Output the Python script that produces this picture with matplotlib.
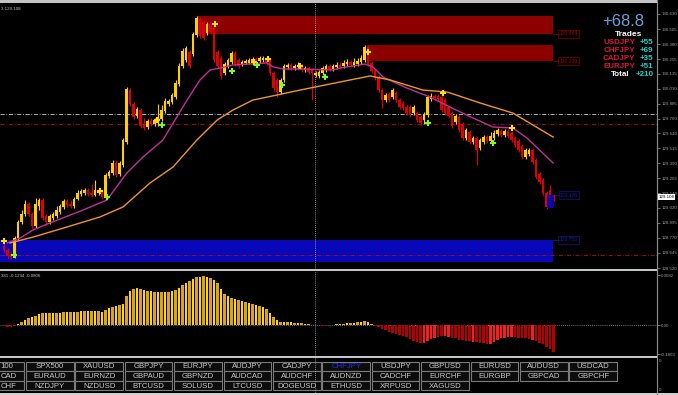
import matplotlib
matplotlib.use("Agg")
import matplotlib.pyplot as plt
from matplotlib.patches import Rectangle
from matplotlib.lines import Line2D

plt.rcParams["font.family"] = ["Liberation Sans", "DejaVu Sans"]

# =====================================================
# DATA  (CHFJPY, one entry per bar)
# =====================================================

opens = [128.703, 128.670, 128.636, 128.611, 128.769, 128.902, 128.969, 129.052, 128.969, 128.869,
         129.035, 129.085, 128.952, 128.902, 128.935, 128.952, 128.985, 129.027, 129.077, 129.052,
         129.035, 129.093, 129.135, 129.143, 129.168, 129.143, 129.126, 129.143, 129.151, 129.101,
         129.284, 129.309, 129.392, 129.301, 129.376, 129.567, 129.998, 129.882, 129.783, 129.832,
         129.716, 129.691, 129.741, 129.716, 129.741, 129.758, 129.824, 129.882, 129.899, 129.940,
         130.048, 130.198, 130.248, 130.314, 130.297, 130.455, 130.588, 130.563, 130.472, 130.547,
         130.522, 130.314, 130.264, 130.140, 130.198, 130.231, 130.306, 130.248, 130.214, 130.223,
         130.223, 130.231, 130.256, 130.239, 130.248, 130.264, 130.248, 130.140, 130.082, 129.982,
         130.082, 130.190, 130.206, 130.181, 130.190, 130.198, 130.165, 130.181, 130.165, 130.123,
         130.115, 130.140, 130.165, 130.198, 130.173, 130.190, 130.206, 130.198, 130.214, 130.231,
         130.206, 130.214, 130.231, 130.248, 130.356, 130.223, 130.165, 130.106, 129.998, 129.915,
         129.965, 129.940, 129.974, 129.915, 129.891, 129.857, 129.857, 129.807, 129.807, 129.774,
         129.749, 129.791, 129.924, 129.949, 129.949, 129.940, 129.915, 129.857, 129.807, 129.733,
         129.774, 129.716, 129.600, 129.650, 129.567, 129.600, 129.517, 129.567, 129.608, 129.575,
         129.600, 129.633, 129.658, 129.625, 129.658, 129.641, 129.600, 129.575, 129.533, 129.442,
         129.467, 129.500, 129.417, 129.301, 129.251, 129.143, 129.168, 129.118]

closes = [128.670, 128.620, 128.611, 128.769, 128.902, 128.969, 129.052, 128.969, 128.869, 129.052,
          129.085, 128.935, 128.902, 128.952, 128.969, 129.002, 129.035, 129.077, 129.043, 129.035,
          129.093, 129.143, 129.160, 129.168, 129.135, 129.126, 129.168, 129.168, 129.110, 129.293,
          129.317, 129.392, 129.293, 129.392, 129.583, 130.007, 129.882, 129.774, 129.841, 129.699,
          129.683, 129.741, 129.716, 129.749, 129.766, 129.832, 129.907, 129.907, 129.957, 130.057,
          130.198, 130.322, 130.347, 130.198, 130.464, 130.596, 130.447, 130.430, 130.547, 130.480,
          130.248, 130.198, 130.115, 130.214, 130.248, 130.306, 130.214, 130.198, 130.231, 130.239,
          130.248, 130.256, 130.231, 130.264, 130.264, 130.223, 130.140, 130.015, 129.982, 130.082,
          130.198, 130.206, 130.181, 130.198, 130.206, 130.165, 130.181, 130.148, 130.140, 130.140,
          130.148, 130.181, 130.198, 130.173, 130.198, 130.206, 130.190, 130.223, 130.231, 130.206,
          130.231, 130.239, 130.264, 130.356, 130.214, 130.156, 130.098, 129.998, 129.915, 129.957,
          129.915, 129.998, 129.915, 129.857, 129.849, 129.807, 129.791, 129.857, 129.749, 129.724,
          129.799, 129.940, 129.949, 129.932, 129.924, 129.832, 129.807, 129.783, 129.699, 129.783,
          129.666, 129.600, 129.666, 129.567, 129.600, 129.500, 129.583, 129.608, 129.575, 129.616,
          129.641, 129.666, 129.625, 129.658, 129.616, 129.583, 129.542, 129.500, 129.442, 129.500,
          129.500, 129.400, 129.276, 129.234, 129.143, 129.027, 129.043, 129.108]

highs = [128.728, 128.686, 128.653, 128.786, 128.919, 129.002, 129.085, 129.068, 128.985, 129.101,
         129.101, 129.101, 128.969, 128.969, 128.985, 129.035, 129.052, 129.093, 129.093, 129.085,
         129.110, 129.168, 129.176, 129.185, 129.185, 129.218, 129.251, 129.185, 129.168, 129.309,
         129.334, 129.417, 129.417, 129.409, 129.600, 130.023, 130.015, 129.899, 129.857, 129.849,
         129.766, 129.758, 129.766, 129.766, 129.882, 129.874, 129.932, 129.924, 129.974, 130.082,
         130.223, 130.347, 130.364, 130.331, 130.480, 130.613, 130.605, 130.580, 130.563, 130.563,
         130.538, 130.331, 130.281, 130.231, 130.264, 130.322, 130.322, 130.264, 130.248, 130.256,
         130.264, 130.273, 130.273, 130.281, 130.281, 130.281, 130.264, 130.156, 130.098, 130.098,
         130.214, 130.223, 130.223, 130.214, 130.231, 130.214, 130.198, 130.198, 130.181, 130.156,
         130.165, 130.198, 130.214, 130.214, 130.214, 130.231, 130.231, 130.248, 130.256, 130.248,
         130.264, 130.264, 130.289, 130.372, 130.372, 130.239, 130.181, 130.123, 130.015, 129.974,
         129.982, 130.015, 129.990, 129.932, 129.907, 129.874, 129.874, 129.874, 129.824, 129.791,
         129.816, 129.957, 129.974, 129.965, 129.965, 129.957, 129.932, 129.874, 129.824, 129.799,
         129.791, 129.733, 129.683, 129.666, 129.616, 129.616, 129.600, 129.625, 129.625, 129.650,
         129.666, 129.683, 129.675, 129.675, 129.675, 129.658, 129.616, 129.592, 129.550, 129.517,
         129.517, 129.517, 129.434, 129.317, 129.268, 129.160, 129.209, 129.135]

lows = [128.653, 128.603, 128.595, 128.603, 128.753, 128.885, 128.952, 128.952, 128.852, 128.852,
        129.002, 128.919, 128.877, 128.885, 128.919, 128.935, 128.969, 129.010, 129.027, 129.018,
        129.018, 129.085, 129.118, 129.126, 129.118, 129.110, 129.118, 129.126, 129.093, 129.085,
        129.268, 129.293, 129.276, 129.284, 129.359, 129.550, 129.866, 129.758, 129.766, 129.683,
        129.666, 129.675, 129.699, 129.699, 129.699, 129.741, 129.807, 129.866, 129.882, 129.924,
        130.032, 130.181, 130.231, 130.181, 130.281, 130.439, 130.430, 130.414, 130.455, 130.464,
        130.231, 130.181, 130.090, 130.123, 130.181, 130.214, 130.198, 130.181, 130.198, 130.214,
        130.214, 130.206, 130.214, 130.223, 130.231, 130.206, 130.123, 129.990, 129.940, 129.965,
        130.065, 130.173, 130.165, 130.165, 130.173, 130.148, 130.148, 130.131, 129.915, 130.106,
        130.098, 130.123, 130.148, 130.156, 130.156, 130.173, 130.173, 130.181, 130.198, 130.190,
        130.190, 130.198, 130.214, 130.231, 130.198, 130.140, 130.082, 129.982, 129.849, 129.899,
        129.899, 129.924, 129.899, 129.841, 129.832, 129.791, 129.774, 129.791, 129.733, 129.708,
        129.716, 129.774, 129.907, 129.915, 129.907, 129.816, 129.791, 129.766, 129.683, 129.716,
        129.650, 129.583, 129.583, 129.550, 129.550, 129.376, 129.500, 129.550, 129.558, 129.558,
        129.583, 129.616, 129.608, 129.608, 129.600, 129.567, 129.525, 129.483, 129.425, 129.425,
        129.450, 129.384, 129.259, 129.218, 129.126, 129.010, 129.027, 129.077]

# moving averages, sampled at bar positions
ma_fast_x = [0.9, 4.6, 8.3, 13.1, 22.6, 29.4, 35.1, 39.7, 45.4, 52.3, 56.0, 58.9, 61.7, 65.4,
             75.1, 76.9, 79.7, 84.6, 94.0, 96.0, 103.1, 105.4, 108.3, 115.1, 121.7, 127.4,
             134.0, 139.7, 145.4, 149.4, 156.9]
ma_fast_y = [128.728, 128.769, 128.836, 128.894, 129.002, 129.085, 129.309, 129.442, 129.583,
             129.915, 130.082, 130.165, 130.181, 130.206, 130.223, 130.190, 130.173, 130.173,
             130.165, 130.181, 130.214, 130.190, 130.106, 130.015, 129.940, 129.857, 129.766,
             129.691, 129.683, 129.600, 129.392]

ma_slow_x = [1.7, 8.3, 18.0, 27.4, 34.0, 41.7, 48.3, 55.1, 60.9, 65.4, 71.1, 78.0, 84.6, 96.0,
             104.6, 110.3, 119.7, 126.6, 136.0, 145.4, 156.9]
ma_slow_y = [128.728, 128.777, 128.861, 128.944, 129.027, 129.226, 129.359, 129.583, 129.749,
             129.832, 129.915, 129.957, 129.998, 130.065, 130.115, 130.082, 129.998, 129.982,
             129.891, 129.807, 129.608]

# signal arrows
sell_x = [0.0, 27.4, 43.7, 60.3, 71.4, 75.4, 84.6, 104.0, 125.4, 145.1]
sell_y = [128.744, 129.160, 129.749, 130.547, 130.231, 130.256, 130.198, 130.314, 129.974, 129.683]
buy_x = [2.9, 29.4, 45.1, 65.1, 72.3, 79.4, 91.7, 121.1, 139.7]
buy_y = [128.628, 129.110, 129.708, 130.156, 130.206, 130.040, 130.106, 129.724, 129.558]

# supply / demand zones
zone_start = [55.1, 103.7, -1.2, 155.0]
zone_end = [156.9, 156.9, 156.9, 157.0]
zone_low = [130.464, 130.239, 128.570, 129.018]
zone_high = [130.613, 130.372, 128.753, 129.126]
zone_kind = ["supply", "supply", "demand", "demand"]

level_gray = 129.799
level_red = [129.716, 128.628]
cursor_bar = 88.9

price_ticks = [130.630, 130.505, 130.380, 130.255, 130.135, 130.010, 129.885, 129.760, 129.640,
               129.515, 129.390, 129.265, 129.140, 129.020, 128.895, 128.770, 128.645, 128.520]

# oscillator histogram
osc = [-0.005, -0.010, -0.010, -0.006, 0.006, 0.019, 0.031, 0.043, 0.049, 0.056,
       0.068, 0.074, 0.074, 0.074, 0.074, 0.074, 0.074, 0.080, 0.080, 0.080,
       0.080, 0.080, 0.086, 0.086, 0.086, 0.086, 0.086, 0.086, 0.080, 0.093,
       0.105, 0.111, 0.117, 0.123, 0.130, 0.179, 0.210, 0.222, 0.228, 0.222,
       0.216, 0.210, 0.210, 0.204, 0.204, 0.204, 0.204, 0.204, 0.210, 0.216,
       0.228, 0.247, 0.259, 0.272, 0.284, 0.296, 0.296, 0.302, 0.296, 0.290,
       0.278, 0.259, 0.222, 0.191, 0.179, 0.167, 0.160, 0.154, 0.148, 0.142,
       0.136, 0.130, 0.123, 0.117, 0.111, 0.099, 0.074, 0.049, 0.031, 0.019,
       0.019, 0.019, 0.019, 0.012, 0.012, 0.012, 0.006, 0.006, 0.003, 0.001,
       -0.002, -0.003, -0.002, 0.001, 0.003, 0.005, 0.007, 0.009, 0.010, 0.012,
       0.014, 0.016, 0.019, 0.025, 0.020, 0.008, -0.003, -0.012, -0.025, -0.031,
       -0.040, -0.049, -0.056, -0.062, -0.068, -0.074, -0.086, -0.099, -0.105, -0.108,
       -0.108, -0.099, -0.086, -0.077, -0.071, -0.068, -0.068, -0.071, -0.077, -0.083,
       -0.090, -0.093, -0.096, -0.099, -0.102, -0.105, -0.108, -0.111, -0.114, -0.114,
       -0.105, -0.093, -0.083, -0.077, -0.074, -0.074, -0.074, -0.077, -0.080, -0.083,
       -0.086, -0.090, -0.096, -0.108, -0.120, -0.133, -0.150, -0.167]
osc_strong = [120, 121, 122, 123, 126, 127, 134, 139, 140, 141, 142, 143, 144, 145, 151]
osc_ticks = [0.3082, 0.0, -0.1803]
osc_tick_labels = ["0.3082", "0.00", "-0.1803"]

trade_pairs = ["USDJPY", "CHFJPY", "CADJPY", "EURJPY"]
trade_pips = [55, 69, 35, 51]
profit_label = "+68.8"

buttons = [
    ["100", "SPX500", "XAUUSD", "GBPJPY", "EURJPY", "AUDJPY", "CADJPY", "CHFJPY",
     "USDJPY", "GBPUSD", "EURUSD", "AUDUSD", "USDCAD"],
    ["CAD", "EURAUD", "EURNZD", "GBPAUD", "GBPNZD", "AUDCAD", "AUDCHF", "AUDNZD",
     "CADCHF", "EURCHF", "EURGBP", "GBPCAD", "GBPCHF"],
    ["CHF", "NZDJPY", "NZDUSD", "BTCUSD", "SOLUSD", "LTCUSD", "DOGEUSD", "ETHUSD",
     "XRPUSD", "XAGUSD"],
]
active_symbol = "CHFJPY"

# =====================================================
# FIGURE
# =====================================================

W, H = 678, 395
fig = plt.figure(figsize=(W / 100, H / 100), dpi=100, facecolor="black")


def box(x0, y0, x1, y1):
    # pixel box (top-left origin) -> figure rect
    return [x0 / W, 1 - y1 / H, (x1 - x0) / W, (y1 - y0) / H]


def fx(x):
    return x / W


def fy(y):
    return 1 - y / H


LABEL = "#9c9c9c"
bars = range(len(closes))

# ---------------- main price window ----------------
ax = fig.add_axes(box(0, 3, 657, 269), facecolor="black")
ax.set_xlim(-1.143, 186.57)
ax.set_ylim(128.512, 130.721)

for s, e, lo, hi, kind in zip(zone_start, zone_end, zone_low, zone_high, zone_kind):
    col = "#8c0000" if kind == "supply" else "#0808b8"
    small = (e - s) < 5
    ax.add_patch(Rectangle((s, lo), e - s, hi - lo, facecolor=col, edgecolor="none",
                           alpha=0.9 if small else 1.0, zorder=4 if small else 1))
    edge = lo if kind == "supply" else hi
    tcol = "#a00000" if kind == "supply" else "#1a1aa0"
    ax.plot([e, e + 1.6], [edge, edge], color=tcol, lw=0.5, zorder=2)
    ax.text(e + 1.8, edge, f"{edge:.3f}", color=tcol, fontsize=3.6, va="center", ha="left",
            bbox=dict(boxstyle="square,pad=0.25", fc="none", ec=tcol, lw=0.4), zorder=2)

ax.axhline(level_gray, color="#c8c8c8", lw=0.6, ls=(0, (5, 2, 1, 2)), zorder=1.5)
for lv in level_red:
    ax.axhline(lv, color="#b01010", lw=0.6, ls=(0, (5, 2, 1, 2)), zorder=1.5)
ax.axvline(cursor_bar, color="#bdbdbd", lw=0.6, ls=(0, (1, 1.5)), zorder=1.5)

up_col, dn_col = "#ffd000", "#e00000"
for i in bars:
    o, c = opens[i], closes[i]
    col = up_col if c >= o else dn_col
    ax.vlines(i, lows[i], highs[i], color=col, lw=0.8, zorder=3)
    ax.bar(i, max(abs(c - o), 0.003), bottom=min(o, c), width=0.8, color=col,
           linewidth=0, zorder=3)

ax.plot(ma_fast_x, ma_fast_y, color="#c0309a", lw=1.0, zorder=3.5)
ax.plot(ma_slow_x, ma_slow_y, color="#f0962a", lw=1.0, zorder=3.5)

ax.plot(sell_x, sell_y, "P", color="#ffe000", ms=4.2, mew=0, zorder=5)
ax.plot(buy_x, buy_y, "P", color="#7cff20", ms=4.2, mew=0, zorder=5)

ax.yaxis.tick_right()
ax.set_yticks(price_ticks)
ax.set_yticklabels([f"{t:.3f}" for t in price_ticks])
ax.tick_params(axis="y", colors=LABEL, labelsize=3.2, length=2, width=0.5, pad=1)
ax.set_xticks([])
for side in ["top", "left", "bottom"]:
    ax.spines[side].set_visible(False)
ax.spines["right"].set_color("#8a8a8a")

last = closes[-1]
ax.text(1.002, last, f"{last:.3f}", transform=ax.get_yaxis_transform(), fontsize=3.2,
        color="black", va="center", ha="left",
        bbox=dict(boxstyle="square,pad=0.2", fc="white", ec="white", lw=0))

ax.text(0.002, 0.985, "3 129.108", transform=ax.transAxes, fontsize=3.2, color="#c8c8c8",
        va="top", ha="left")

# ---------------- oscillator window ----------------
ax2 = fig.add_axes(box(0, 271, 657, 356), facecolor="black")
ax2.set_xlim(-1.143, 186.57)
ax2.set_ylim(-0.191, 0.333)
osc_cols = []
for i, v in enumerate(osc):
    if v >= 0:
        osc_cols.append("#ffd800" if i % 2 == 0 else "#d9a514")
    else:
        osc_cols.append("#ff1a1a" if i in osc_strong else "#b40000")
ax2.bar(list(bars), osc, width=0.8, color=osc_cols, linewidth=0, zorder=2)
ax2.axhline(0, color="#9a9a9a", lw=0.6, ls=(0, (1, 1.5)), zorder=1)
ax2.axvline(cursor_bar, color="#bdbdbd", lw=0.6, ls=(0, (1, 1.5)), zorder=3)
ax2.yaxis.tick_right()
ax2.set_yticks(osc_ticks)
ax2.set_yticklabels(osc_tick_labels)
ax2.tick_params(axis="y", colors=LABEL, labelsize=3.2, length=2, width=0.5, pad=1)
ax2.set_xticks([])
for side in ["top", "left", "bottom"]:
    ax2.spines[side].set_visible(False)
ax2.spines["right"].set_color("#8a8a8a")
ax2.text(0.002, 0.96, "381 -0.1234 -0.0806", transform=ax2.transAxes, fontsize=3.2,
         color="#c8c8c8", va="top", ha="left")

# ---------------- symbol buttons ----------------
ax3 = fig.add_axes(box(0, 358, 678, 395), facecolor="black")
ax3.set_xlim(0, W)
ax3.set_ylim(H, 358)
ax3.axis("off")
bw, pitch = 47.6, 49.4
for r, row in enumerate(buttons):
    top = 361.6 + 9.8 * r
    for k, name in enumerate(row):
        left = -23.4 + pitch * k
        ax3.add_patch(Rectangle((left, top), bw, 9.2, facecolor="#0c0c0c",
                                edgecolor="#7a7a7a", lw=0.8))
        col = "#2828e8" if name == active_symbol else "#c8c8c8"
        if k == 0:
            ax3.text(0.5, top + 4.8, name, color=col, fontsize=5.6, ha="left", va="center")
        else:
            ax3.text(left + bw / 2, top + 4.8, name, color=col, fontsize=5.6,
                     ha="center", va="center")
ax3.plot([315, 315], [358, 395], color="#bdbdbd", lw=0.6, ls=(0, (1, 1.5)))
ax3.add_patch(Rectangle((0, 392.5), W, 3, facecolor="#cfcfcf", edgecolor="none"))
ax3.text(659, 361, "0", color=LABEL, fontsize=3.2, va="center")
ax3.text(659, 390, "0", color=LABEL, fontsize=3.2, va="center")

# ---------------- window frame ----------------
for y0, y1 in [(0, 2.5), (268.8, 271.2), (355.8, 358.2)]:
    fig.add_artist(Rectangle((0, fy(y1)), fx(657), (y1 - y0) / H, transform=fig.transFigure,
                             facecolor="#c4c4c4", edgecolor="none"))
fig.add_artist(Line2D([fx(657), fx(657)], [0, 1], color="#8a8a8a", lw=0.8))

# ---------------- trade panel ----------------
fig.text(fx(602), fy(25.5), profit_label, fontsize=12.0, color="#6f9fd8", va="baseline")
fig.text(fx(628.5), fy(36.0), "Trades", fontsize=6.0, color="white", weight="bold",
         ha="center", va="baseline")
for n, (pair, pips) in enumerate(zip(trade_pairs, trade_pips)):
    yc = 42.0 + 8 * n
    fig.text(fx(635), fy(yc), pair, fontsize=5.8, color="#dc143c", weight="bold",
             ha="right", va="center")
    fig.text(fx(653.5), fy(yc), f"+{pips}", fontsize=5.8, color="#20d0d0", weight="bold",
             ha="right", va="center")
fig.text(fx(630), fy(74.0), "Total", fontsize=5.8, color="white", weight="bold",
         ha="right", va="center")
fig.text(fx(653.5), fy(74.0), f"+{sum(trade_pips)}", fontsize=5.8, color="#20d0d0",
         weight="bold", ha="right", va="center")

fig.savefig("out.png", dpi=100, facecolor="black")
